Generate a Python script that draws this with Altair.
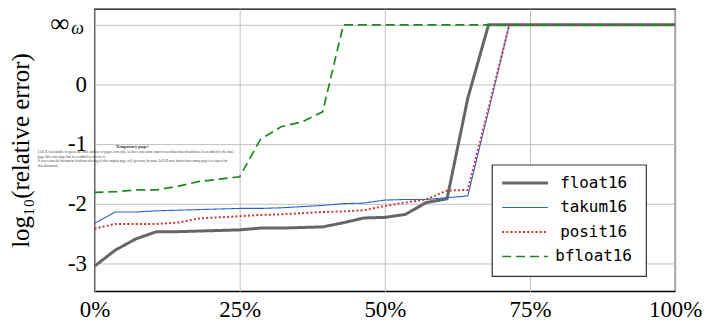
import altair as alt
import pandas as pd

INF = 1.0  # axis level where the "infinity" row is drawn

x_pct = [0.0, 3.57, 7.14, 10.71, 14.29, 17.86, 21.43, 25.0, 28.57, 32.14,
         35.71, 39.29, 42.86, 46.43, 50.0, 53.57, 57.14, 60.71, 64.29, 67.86,
         71.43, 75.0, 78.57, 82.14, 85.71, 89.29, 92.86, 96.43, 100.0]

float16 = [-3.05, -2.78, -2.59, -2.47, -2.47, -2.46, -2.45, -2.44, -2.41, -2.41,
           -2.40, -2.39, -2.32, -2.24, -2.23, -2.18, -1.98, -1.92, -0.23, INF,
           INF, INF, INF, INF, INF, INF, INF, INF, INF]
takum16 = [-2.33, -2.14, -2.14, -2.12, -2.11, -2.10, -2.09, -2.08, -2.08, -2.07,
           -2.05, -2.03, -2.00, -1.99, -1.94, -1.93, -1.93, -1.90, -1.87, -0.44,
           INF, INF, INF, INF, INF, INF, INF, INF, INF]
posit16 = [-2.42, -2.34, -2.34, -2.34, -2.32, -2.25, -2.23, -2.21, -2.19, -2.18,
           -2.16, -2.14, -2.13, -2.11, -2.04, -1.98, -1.93, -1.78, -1.77, -0.40,
           INF, INF, INF, INF, INF, INF, INF, INF, INF]
bfloat16 = [-1.81, -1.80, -1.77, -1.77, -1.71, -1.63, -1.59, -1.55, -0.92, -0.71,
            -0.63, -0.46, INF, INF, INF, INF, INF, INF, INF, INF,
            INF, INF, INF, INF, INF, INF, INF, INF, INF]

series = ["float16", "takum16", "posit16", "bfloat16"]
values = [float16, takum16, posit16, bfloat16]
colors = ["#666666", "#2a62d4", "#c83737", "#1a8a1a"]
dashes = [[1, 0], [1, 0], [2, 2.2], [9, 5]]
widths = [3.0, 1.1, 2.0, 1.7]

x_ticks = [0, 25, 50, 75, 100]
y_ticks = [-3, -2, -1, 0, 1]

temp_lines = [
    "LaTeX was unable to guess the total number of pages correctly. As there was some unprocessed data that should have been added to the final",
    "page this extra page has been added to receive it.",
    "    If you rerun the document (without altering it) this surplus page will go away, because LaTeX now knows how many pages to expect for",
    "this document.",
]

rows = []
for name, vals in zip(series, values):
    for xv, yv in zip(x_pct, vals):
        rows.append({"x": xv, "y": yv, "series": name})
df = pd.DataFrame(rows)
leg_df = pd.DataFrame({"series": series, "row": list(range(len(series)))})

SERIF = "Liberation Serif"
MONO = "DejaVu Sans Mono"

color_s = alt.Scale(domain=series, range=colors)
dash_s = alt.Scale(domain=series, range=dashes)
width_s = alt.Scale(type="ordinal", domain=series, range=widths)

x_enc = alt.X("x:Q", scale=alt.Scale(domain=[0, 100], nice=False),
              axis=alt.Axis(values=x_ticks, labelExpr="datum.value + '%'", title=None,
                            labelFont=SERIF, labelFontSize=23, labelColor="black",
                            labelPadding=7, labelFlush=False, labelOverlap=False,
                            ticks=False, domain=False,
                            gridColor="#c0c0c0", gridWidth=1))
y_enc = alt.Y("y:Q", scale=alt.Scale(domain=[-3.47, 1.267], nice=False, zero=False),
              axis=alt.Axis(values=y_ticks,
                            labelExpr="datum.value == 1 ? '' : toString(datum.value)",
                            title="log\u2081\u2080(relative error)", titleFont=SERIF,
                            titleFontSize=25, titleFontWeight="normal", titleColor="black",
                            titlePadding=34,
                            labelFont=SERIF, labelFontSize=23, labelColor="black",
                            labelPadding=8, labelFlush=False, labelOverlap=False,
                            ticks=False, domain=False,
                            gridColor="#c0c0c0", gridWidth=1))

lines = alt.Chart(df).mark_line().encode(
    x=x_enc,
    y=y_enc,
    color=alt.Color("series:N", scale=color_s, legend=None, sort=series),
    strokeDash=alt.StrokeDash("series:N", scale=dash_s, legend=None, sort=series),
    strokeWidth=alt.StrokeWidth("series:N", scale=width_s, legend=None, sort=series),
)

# legend box (drawn as marks)
leg_box = alt.Chart(pd.DataFrame({"k": [0]})).mark_rect(
    fill="white", stroke="#333333", strokeWidth=1.2
).encode(x=alt.value(400), x2=alt.value(555), y=alt.value(157), y2=alt.value(269))

leg_y = alt.Y("row:Q", scale=alt.Scale(domain=[0, 3], range=[175, 249]), axis=None)

leg_rules = alt.Chart(leg_df).mark_rule().encode(
    x=alt.value(410), x2=alt.value(456), y=leg_y,
    color=alt.Color("series:N", scale=color_s, legend=None),
    strokeDash=alt.StrokeDash("series:N", scale=dash_s, legend=None),
    strokeWidth=alt.StrokeWidth("series:N", scale=width_s, legend=None),
)

leg_text = alt.Chart(leg_df).mark_text(
    font=MONO, fontSize=16, align="center", baseline="middle", color="black"
).encode(x=alt.value(502), y=leg_y, text="series:N")

inf_text = alt.Chart(pd.DataFrame({"t": ["\u221e"]})).mark_text(
    font=SERIF, fontSize=27, align="center", baseline="middle", color="black"
).encode(x=alt.value(-35), y=alt.value(15.5), text="t:N")

omega_text = alt.Chart(pd.DataFrame({"t": ["\u03c9"]})).mark_text(
    font=SERIF, fontSize=18, fontStyle="italic", align="center", baseline="middle", color="black"
).encode(x=alt.value(-17), y=alt.value(20), text="t:N")

temp_title = alt.Chart(pd.DataFrame({"t": ["Temporary page!"]})).mark_text(
    font=SERIF, fontSize=4.5, fontWeight="bold", align="center", baseline="middle", color="#333333"
).encode(x=alt.value(38), y=alt.value(139), text="t:N")

temp_body = alt.Chart(pd.DataFrame({"t": temp_lines, "i": [0, 1, 2, 3]})).mark_text(
    font=SERIF, fontSize=3.5, align="left", baseline="middle", color="#444444"
).encode(x=alt.value(-57), y=alt.Y("i:Q", axis=None, scale=alt.Scale(domain=[0, 3], range=[144, 158])),
         text="t:N")

chart = alt.layer(lines, leg_box, leg_rules, leg_text, inf_text, omega_text,
                  temp_title, temp_body).resolve_scale(
    y="independent"
).properties(
    width=584, height=284,
    autosize=alt.AutoSizeParams(type="none"),
    padding={"left": 87, "top": 0, "right": 30, "bottom": 32},
).configure_view(stroke="black", strokeWidth=1.3)

chart.save("out.html", embed_options={"renderer": "svg", "actions": False})
